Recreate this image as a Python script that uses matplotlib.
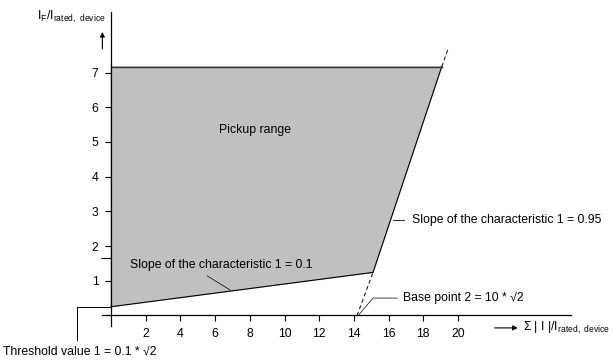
import matplotlib.pyplot as plt

plt.rcParams['font.family'] = ['Liberation Sans', 'DejaVu Sans']
plt.rcParams['mathtext.fontset'] = 'custom'
plt.rcParams['mathtext.rm'] = 'Liberation Sans'

# values
x_ticks = [2, 4, 6, 8, 10, 12, 14, 16, 18, 20]
y_ticks = [1, 2, 3, 4, 5, 6, 7]
extra_ytick = 1.65
threshold = 0.25
knee = (15.1, 1.24)
top = 7.17
top_right_x = 19.06
base_point = 14.18
dash_end = (19.44, 7.7)

fig = plt.figure(figsize=(6.13, 3.6), dpi=100)
ax = fig.add_axes([0, 0, 1, 1])
ax.set_xlim(-6.40, 28.93)
ax.set_ylim(-1.285, 9.09)

for s in ['top', 'right']:
    ax.spines[s].set_visible(False)
ax.spines['left'].set_position(('data', 0))
ax.spines['bottom'].set_position(('data', 0))
ax.spines['left'].set_bounds(-0.3, 8.74)
ax.spines['bottom'].set_bounds(-0.53, 26.5)
for s in ['left', 'bottom']:
    ax.spines[s].set_linewidth(0.9)

tfs = 8.8
ax.set_xticks(x_ticks)
ax.set_yticks(y_ticks)
ax.set_yticks([extra_ytick], minor=True)
ax.tick_params(axis='both', which='major', direction='out', length=4, width=0.8,
               labelsize=tfs, pad=5)
ax.tick_params(axis='y', which='minor', length=7, width=0.8)

# pickup range polygon
poly_x = [0, knee[0], top_right_x, 0]
poly_y = [threshold, knee[1], top, top]
ax.fill(poly_x, poly_y, color='#c0c0c0', zorder=1)
ax.plot([0, knee[0]], [threshold, knee[1]], color='black', lw=0.8, zorder=3)
ax.plot([knee[0], top_right_x], [knee[1], top], color='black', lw=0.8, zorder=3)
ax.plot([0, top_right_x], [top, top], color='#333333', lw=1.0, zorder=3)

# dashed extension of the steep characteristic
ax.plot([base_point, knee[0]], [0, knee[1]], color='black', lw=0.7, ls=(0, (4, 3)), zorder=3)
ax.plot([top_right_x, dash_end[0]], [top, dash_end[1]], color='black', lw=0.7, ls=(0, (4, 3)), zorder=3)

# threshold bracket
ax.plot([-1.95, 0], [threshold, threshold], color='black', lw=0.7)
ax.plot([-1.95, -1.95], [threshold, -0.7], color='black', lw=0.7)

ax.text(8.3, 5.34, 'Pickup range', fontsize=tfs, ha='center', va='center')
ax.text(1.1, 1.45, 'Slope of the characteristic 1 = 0.1', fontsize=tfs, va='center')
ax.plot([5.54, 6.87], [1.14, 0.73], color='black', lw=0.5)
ax.text(17.35, 2.75, 'Slope of the characteristic 1 = 0.95', fontsize=tfs, va='center')
ax.plot([16.25, 16.9], [2.75, 2.75], color='black', lw=0.6)
ax.text(16.85, 0.5, 'Base point 2 = 10 * \u221a2', fontsize=tfs, va='center')
ax.plot([16.5, 15.1, base_point + 0.1], [0.5, 0.5, 0.02], color='black', lw=0.5)
ax.text(-6.25, -1.05, 'Threshold value 1 = 0.1 * \u221a2', fontsize=tfs, va='center')

# axis titles with arrows
ax.text(-0.3, 8.6, r'I$_\mathrm{F}$/I$_\mathrm{rated,\ device}$', fontsize=tfs,
        ha='right', va='center')
ax.annotate('', xy=(-0.5, 8.25), xytext=(-0.5, 7.6),
            arrowprops=dict(arrowstyle='-|>', color='black', lw=0.8, mutation_scale=7))
ax.annotate('', xy=(23.6, -0.36), xytext=(21.95, -0.36),
            arrowprops=dict(arrowstyle='-|>', color='black', lw=0.8, mutation_scale=7))
ax.text(23.75, -0.36, r'$\Sigma$ | I |/I$_\mathrm{rated,\ device}$', fontsize=tfs, va='center')

fig.savefig('out.png', dpi=100)
